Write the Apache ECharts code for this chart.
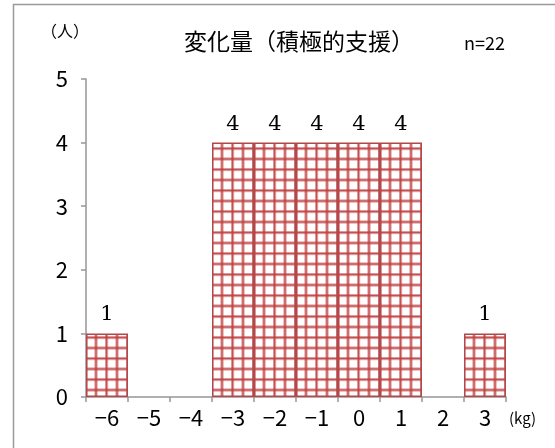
<!DOCTYPE html>
<html>
<head>
<meta charset="utf-8">
<script src="https://cdn.jsdelivr.net/npm/echarts@6/dist/echarts.min.js"></script>
<style>html,body{margin:0;padding:0;background:#fff;}#c{width:555px;height:448px;}</style>
</head>
<body>
<div id="c"></div>
<script>
const categories = ['-6','-5','-4','-3','-2','-1','0','1','2','3'];
const counts = [1, 0, 0, 4, 4, 4, 4, 4, 0, 1];
const yTicks = [0, 1, 2, 3, 4, 5];
const titleText = '変化量（積極的支援）';
const nText = 'n=22';
const yUnit = '（人）';
const xUnit = '(kg)';

function makePattern() {
  const c = document.createElement('canvas');
  c.width = 21; c.height = 21;
  const g = c.getContext('2d');
  g.fillStyle = '#ffffff';
  g.fillRect(0, 0, 21, 21);
  g.strokeStyle = 'rgba(200,80,80,0.5)';
  g.lineWidth = 3.4;
  [1.5, 12].forEach(p => {
    g.beginPath(); g.moveTo(p, 0); g.lineTo(p, 21); g.stroke();
    g.beginPath(); g.moveTo(0, p); g.lineTo(21, p); g.stroke();
  });
  g.strokeStyle = 'rgba(190,65,65,0.85)';
  g.lineWidth = 1.3;
  [1.5, 12].forEach(p => {
    g.beginPath(); g.moveTo(p, 0); g.lineTo(p, 21); g.stroke();
    g.beginPath(); g.moveTo(0, p); g.lineTo(21, p); g.stroke();
  });
  return c;
}

const chart = echarts.init(document.getElementById('c'), null, {renderer: 'canvas'});
const labelFont = "'Noto Sans CJK JP', 'Noto Sans', sans-serif";
chart.setOption({
  animation: false,
  backgroundColor: '#ffffff',
  grid: {left: 86, right: 49, top: 79, bottom: 51},
  graphic: [
    {type: 'rect', shape: {x: 13.5, y: 4.5, width: 600, height: 500},
     style: {fill: 'none', stroke: '#9a9a9a', lineWidth: 1.5}, silent: true, z: -1},
    {type: 'text', left: 184, top: 30, style: {text: titleText, font: "23px 'Noto Sans CJK JP'", fill: '#000'}},
    {type: 'text', left: 464, top: 34, style: {text: nText, font: "18px 'Noto Sans CJK JP'", fill: '#000'}},
    {type: 'text', left: 41, top: 23, style: {text: yUnit, font: "16px 'Noto Sans CJK JP'", fill: '#000'}},
    {type: 'text', left: 509, top: 411, style: {text: xUnit, font: "15px 'Noto Sans CJK JP'", fill: '#000'}}
  ],
  xAxis: {
    type: 'category',
    data: categories,
    axisLine: {lineStyle: {color: '#969696', width: 1.5}},
    axisTick: {show: true, alignWithLabel: false, length: 5, lineStyle: {color: '#969696', width: 1.5}},
    axisLabel: {
      color: '#000', fontSize: 22, fontFamily: labelFont, margin: 10,
      formatter: v => v.replace('-', '−')
    }
  },
  yAxis: {
    type: 'value', min: yTicks[0], max: yTicks[yTicks.length - 1], interval: 1,
    splitLine: {show: false},
    axisLine: {show: true, lineStyle: {color: '#969696', width: 1.5}},
    axisTick: {show: true, length: 5, lineStyle: {color: '#969696', width: 1.5}},
    axisLabel: {color: '#000', fontSize: 22, fontFamily: labelFont, margin: 18}
  },
  series: [{
    type: 'bar',
    data: counts.map(v => v === 0 ? {value: v, itemStyle: {borderWidth: 0}} : v),
    barCategoryGap: '0%',
    itemStyle: {
      color: {image: makePattern(), repeat: 'repeat'},
      borderColor: '#b3474a',
      borderWidth: 1.5
    },
    label: {
      show: true, position: 'top', distance: 8,
      color: '#000', fontSize: 21, fontFamily: "'DejaVu Serif', 'Liberation Serif', serif",
      formatter: p => p.value > 0 ? String(p.value) : ''
    }
  }]
});
</script>
</body>
</html>
